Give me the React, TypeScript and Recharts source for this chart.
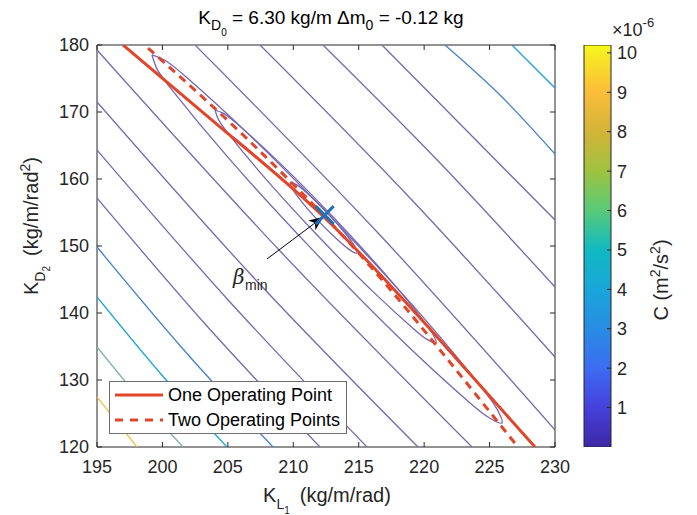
import React from 'react';
import {
  ComposedChart, Line, Scatter, XAxis, YAxis, ReferenceArea, ReferenceLine, Legend,
  BarChart, Bar,
} from 'recharts';

// ---------- data ----------
const xTicks = [195, 200, 205, 210, 215, 220, 225, 230];
const yTicks = [120, 130, 140, 150, 160, 170, 180];
const cbTicks = [1, 2, 3, 4, 5, 6, 7, 8, 9, 10];
const cbMax = 10.2;
const cbBar = [{ k: 'C', v: 10.2 }];

const onePoint = [
  { x: 196.99, y: 180 }, { x: 204.78, y: 167.16 }, { x: 212.42, y: 154.18 },
  { x: 220.45, y: 137.61 }, { x: 228.47, y: 120 },
];
const twoPoints = [
  { x: 198.9, y: 179.55 }, { x: 204.63, y: 169.4 }, { x: 209.75, y: 159.7 },
  { x: 215.33, y: 148.21 }, { x: 221.21, y: 134.48 }, { x: 227.17, y: 120 },
];
const betaMin = [{ x: 212.4, y: 154.6 }];
const arrowFrom = { x: 207.99, y: 148.06 };
const arrowTo = { x: 212.27, y: 154.33 };

// contour lines, upper-right side of the valley
const upperCyan = [{ x: 226.71, y: 180 }, { x: 230, y: 173.58 }];
const upperBlue = [{ x: 221.59, y: 180 }, { x: 225.95, y: 172.24 }, { x: 230, y: 163.73 }];
const upperP1 = [{ x: 216.78, y: 180 }, { x: 223.35, y: 167.02 }, { x: 230, y: 153.88 }];
const upperP2 = [{ x: 212.27, y: 180 }, { x: 221.29, y: 162.24 }, { x: 230, y: 143.88 }];
const upperP3 = [{ x: 207.46, y: 180 }, { x: 218.92, y: 157.16 }, { x: 230, y: 133.43 }];
const upperP4 = [{ x: 202.49, y: 180 }, { x: 216.55, y: 151.79 }, { x: 230, y: 122.54 }];
// contour lines, lower-left side of the valley
const lowerYellow = [{ x: 195, y: 127.46 }, { x: 198.06, y: 120 }];
const lowerTeal = [{ x: 195, y: 134.93 }, { x: 198.21, y: 127.31 }, { x: 201.57, y: 120 }];
const lowerCyan = [{ x: 195, y: 142.39 }, { x: 199.85, y: 130.97 }, { x: 204.93, y: 120 }];
const lowerBlue = [{ x: 195, y: 149.85 }, { x: 201.57, y: 134.63 }, { x: 208.45, y: 120 }];
const lowerP1 = [{ x: 195, y: 157.16 }, { x: 203.33, y: 138.21 }, { x: 212.04, y: 120 }];
const lowerP2 = [{ x: 195, y: 164.33 }, { x: 205.09, y: 141.79 }, { x: 215.63, y: 120 }];
const lowerP3 = [{ x: 195, y: 171.49 }, { x: 207.0, y: 145.22 }, { x: 219.53, y: 120 }];
const lowerP4 = [{ x: 195, y: 179.25 }, { x: 209.06, y: 149.1 }, { x: 223.66, y: 120 }];
// closed contours around the minimum
const loop1 = [
  { x: 199.2, y: 178.51 }, { x: 200.18, y: 177.72 }, { x: 201.73, y: 175.36 },
  { x: 206.75, y: 166.37 }, { x: 213.57, y: 152.9 }, { x: 220.13, y: 138.91 },
  { x: 224.47, y: 128.67 }, { x: 225.6, y: 125.54 }, { x: 225.95, y: 123.58 },
  { x: 224.97, y: 124.37 }, { x: 223.42, y: 126.73 }, { x: 218.4, y: 135.72 },
  { x: 211.58, y: 149.19 }, { x: 205.03, y: 163.18 }, { x: 200.68, y: 173.42 },
  { x: 199.55, y: 176.55 }, { x: 199.2, y: 178.51 },
];
const loop2 = [
  { x: 204.02, y: 170.3 }, { x: 204.64, y: 169.84 }, { x: 205.64, y: 168.34 },
  { x: 208.82, y: 162.67 }, { x: 213.13, y: 154.15 }, { x: 217.26, y: 145.27 },
  { x: 219.99, y: 138.76 }, { x: 220.69, y: 136.76 }, { x: 220.91, y: 135.52 },
  { x: 220.28, y: 135.99 }, { x: 219.29, y: 137.48 }, { x: 216.11, y: 143.15 },
  { x: 211.8, y: 151.67 }, { x: 207.66, y: 160.54 }, { x: 204.93, y: 167.04 },
  { x: 204.23, y: 169.06 }, { x: 204.02, y: 170.3 },
];
const loop3 = [
  { x: 209.75, y: 159.55 }, { x: 210.31, y: 159.09 }, { x: 211.32, y: 157.43 },
  { x: 212.64, y: 154.87 }, { x: 213.87, y: 152.13 }, { x: 214.66, y: 150.07 },
  { x: 214.87, y: 148.96 }, { x: 214.31, y: 149.42 }, { x: 213.3, y: 151.07 },
  { x: 211.97, y: 153.64 }, { x: 210.74, y: 156.37 }, { x: 209.96, y: 158.43 },
  { x: 209.75, y: 159.55 },
];

// ---------- styles ----------
const FONT = '"Liberation Sans", Arial, Helvetica, sans-serif';
const AX = '#262626';
const RED = '#E0462A';
const C_PURPLE = '#7767af';
const C_BLUE = '#4181ca';
const C_CYAN = '#17a5d8';
const C_TEAL = '#7bb4aa';
const C_YELLOW = '#ecc24a';
const PL = 97, PR = 555, PT = 45, PB = 447;

const openContours: [any[], string][] = [
  [upperCyan, C_CYAN], [upperBlue, C_BLUE], [upperP1, C_PURPLE], [upperP2, C_PURPLE],
  [upperP3, C_PURPLE], [upperP4, C_PURPLE],
  [lowerYellow, C_YELLOW], [lowerTeal, C_TEAL], [lowerCyan, C_CYAN], [lowerBlue, C_BLUE],
  [lowerP1, C_PURPLE], [lowerP2, C_PURPLE], [lowerP3, C_PURPLE], [lowerP4, C_PURPLE],
];
const loops = [loop1, loop2, loop3];

const parulaStops: [number, string][] = [
  [0, '#3e27a6'], [1, '#4641dc'], [2, '#3c6cf2'], [3, '#288ce4'], [4, '#1aa6da'],
  [5, '#10b9c2'], [6, '#58ca7a'], [7, '#9fc23f'], [8, '#d2b437'], [9, '#fcbc3a'],
  [10, '#f6ec22'], [10.2, '#f9fb15'],
];

const XTick = (p: any) => {
  const { x, payload } = p;
  return (
    <g>
      <line x1={x} x2={x} y1={PB} y2={PB - 5} stroke={AX} />
      <line x1={x} x2={x} y1={PT} y2={PT + 5} stroke={AX} />
      <text x={x} y={473} textAnchor="middle" fontSize={18} fontFamily={FONT} fill={AX}>
        {payload.value}
      </text>
    </g>
  );
};
const YTick = (p: any) => {
  const { y, payload } = p;
  return (
    <g>
      <line x1={PL} x2={PL + 5} y1={y} y2={y} stroke={AX} />
      <line x1={PR} x2={PR - 5} y1={y} y2={y} stroke={AX} />
      <text x={89} y={y} dy="0.36em" textAnchor="end" fontSize={18} fontFamily={FONT} fill={AX}>
        {payload.value}
      </text>
    </g>
  );
};
const CbTick = (p: any) => {
  const { y, payload } = p;
  return (
    <g>
      <line x1={611} x2={607} y1={y} y2={y} stroke={AX} />
      <text x={617} y={y} dy="0.36em" textAnchor="start" fontSize={18} fontFamily={FONT} fill={AX}>
        {payload.value}
      </text>
    </g>
  );
};

const XTexts = () => (
  <g fontFamily={FONT} fill="#000">
    <text x={331} y={24} textAnchor="middle" fontSize={19}>
      K<tspan dy={6} fontSize={14}>D</tspan><tspan dy={6} fontSize={10}>0</tspan>
      <tspan dy={-12} fontSize={19}>{' = 6.30 kg/m \u0394m'}</tspan>
      <tspan dy={6} fontSize={14}>0</tspan>
      <tspan dy={-6} fontSize={19}>{' = -0.12 kg'}</tspan>
    </text>
    <text x={327} y={502} textAnchor="middle" fontSize={20} fill={AX}>
      K<tspan dy={7} fontSize={14}>L</tspan><tspan dy={5} fontSize={10}>1</tspan>
      <tspan dy={-12} fontSize={20}>{'\u2002(kg/m/rad)'}</tspan>
    </text>
  </g>
);
const YTexts = () => (
  <g fontFamily={FONT} fill={AX}>
    <text transform="translate(38, 226) rotate(-90)" textAnchor="middle" fontSize={20}>
      K<tspan dy={7} fontSize={14}>D</tspan><tspan dy={5} fontSize={10}>2</tspan>
      <tspan dy={-12} fontSize={20}>{'\u2002(kg/m/rad'}</tspan>
      <tspan dy={-8} fontSize={14}>2</tspan>
      <tspan dy={8} fontSize={20}>)</tspan>
    </text>
  </g>
);
const CbTexts = () => (
  <g fontFamily={FONT} fill={AX}>
    <text x={612} y={36} fontSize={18}>
      {'\u00d710'}<tspan dy={-9} fontSize={13}>-6</tspan>
    </text>
    <text transform="translate(668, 280) rotate(-90)" textAnchor="middle" fontSize={20}>
      {'C (m'}<tspan dy={-8} fontSize={14}>2</tspan>
      <tspan dy={8} fontSize={20}>/s</tspan>
      <tspan dy={-8} fontSize={14}>2</tspan>
      <tspan dy={8} fontSize={20}>)</tspan>
    </text>
  </g>
);

const XMark = (p: any) => {
  const { cx, cy } = p;
  const r = 9;
  return (
    <g stroke="#1f72b8" strokeWidth={3}>
      <line x1={cx - r} y1={cy - r} x2={cx + r} y2={cy + r} />
      <line x1={cx - r} y1={cy + r} x2={cx + r} y2={cy - r} />
    </g>
  );
};

const ArrowShape = (p: any) => {
  const { x1, y1, x2, y2 } = p;
  const dx = x2 - x1, dy = y2 - y1;
  const len = Math.hypot(dx, dy) || 1;
  const ux = dx / len, uy = dy / len, nx = -uy, ny = ux;
  const hl = 14, hw = 6, back = 10;
  const pts = [
    [x2, y2],
    [x2 - ux * hl + nx * hw, y2 - uy * hl + ny * hw],
    [x2 - ux * back, y2 - uy * back],
    [x2 - ux * hl - nx * hw, y2 - uy * hl - ny * hw],
  ].map((q) => q.join(',')).join(' ');
  return (
    <g>
      <line x1={x1} y1={y1} x2={x2 - ux * back} y2={y2 - uy * back} stroke="#000" strokeWidth={1} />
      <polygon points={pts} fill="#000" />
      <text x={x1 - 34} y={y1 + 25} fontSize={20} fontStyle="italic" fontFamily='"DejaVu Serif", "Liberation Serif", serif' fill={AX}>
        {'\u03b2'}
      </text>
      <text x={x1 - 22} y={y1 + 31} fontSize={14} fontFamily={FONT} fill={AX}>min</text>
    </g>
  );
};

const LegendBox = () => (
  <div style={{ width: 238, height: 53, boxSizing: 'border-box', border: '1px solid #6e6e6e', background: '#fff' }}>
    <svg width={236} height={51} style={{ display: 'block' }}>
      <line x1={5} x2={53} y1={13} y2={13} stroke={RED} strokeWidth={3} />
      <line x1={5} x2={53} y1={38} y2={38} stroke={RED} strokeWidth={3} strokeDasharray="8 7" />
      <text x={58} y={13} dy="0.36em" fontSize={18} fontFamily={FONT} fill="#000">One Operating Point</text>
      <text x={58} y={38} dy="0.36em" fontSize={18} fontFamily={FONT} fill="#000">Two Operating Points</text>
    </svg>
  </div>
);

export default function App() {
  return (
    <div style={{ position: 'absolute', left: 0, top: 0, width: 697, height: 515, background: '#fff' }}>
      <div style={{ position: 'absolute', left: 0, top: 0 }}>
        <ComposedChart width={697} height={515} margin={{ top: PT, right: 697 - PR, bottom: 38, left: 57 }}>
          <XAxis
            type="number" dataKey="x" domain={[195, 230]} ticks={xTicks} interval={0}
            allowDataOverflow axisLine={false} tickLine={false} height={30}
            tick={(p: any) => <XTick {...p} />} label={<XTexts />}
          />
          <YAxis
            type="number" dataKey="y" domain={[120, 180]} ticks={yTicks} interval={0}
            allowDataOverflow axisLine={false} tickLine={false} width={40}
            tick={(p: any) => <YTick {...p} />} label={<YTexts />}
          />
          {openContours.map(([d, c], i) => (
            <Line key={'o' + i} data={d} dataKey="y" type="monotone" stroke={c} strokeWidth={1.3}
              dot={false} activeDot={false} isAnimationActive={false} legendType="none" />
          ))}
          {loops.map((d, i) => (
            <Line key={'l' + i} data={d} dataKey="y" type="natural" stroke={C_PURPLE} strokeWidth={1.3}
              dot={false} activeDot={false} isAnimationActive={false} legendType="none" />
          ))}
          <Line data={onePoint} dataKey="y" type="natural" stroke={RED} strokeWidth={3}
            dot={false} activeDot={false} isAnimationActive={false} name="One Operating Point" />
          <Line data={twoPoints} dataKey="y" type="natural" stroke={RED} strokeWidth={3} strokeDasharray="8 6"
            dot={false} activeDot={false} isAnimationActive={false} name="Two Operating Points" />
          <Scatter data={betaMin} shape={(p: any) => <XMark {...p} />} isAnimationActive={false} legendType="none" />
          <ReferenceArea x1={195} x2={230} y1={120} y2={180} fill="none" stroke={AX} strokeWidth={1} />
          <ReferenceLine segment={[arrowFrom, arrowTo]} stroke="#000" shape={(p: any) => <ArrowShape {...p} />} />
          <Legend layout="horizontal" verticalAlign="middle" align="center"
            wrapperStyle={{ left: 109, top: 381, width: 238, height: 53 }}
            content={() => <LegendBox />} />
        </ComposedChart>
      </div>
      <div style={{ position: 'absolute', left: 0, top: 0 }}>
        <BarChart width={697} height={515} data={cbBar} barCategoryGap={0}
          margin={{ top: PT, right: 46, bottom: 515 - PB, left: 584 }}>
          <defs>
            <linearGradient id="parula" x1="0" y1="1" x2="0" y2="0">
              {parulaStops.map(([v, c]) => (
                <stop key={v} offset={v / cbMax} stopColor={c} />
              ))}
            </linearGradient>
          </defs>
          <XAxis dataKey="k" type="category" hide />
          <YAxis orientation="right" type="number" domain={[0, cbMax]} ticks={cbTicks} interval={0}
            allowDataOverflow axisLine={false} tickLine={false} width={40}
            tick={(p: any) => <CbTick {...p} />} label={<CbTexts />} />
          <Bar dataKey="v" fill="url(#parula)" stroke={AX} strokeWidth={1} isAnimationActive={false} />
        </BarChart>
      </div>
    </div>
  );
}
